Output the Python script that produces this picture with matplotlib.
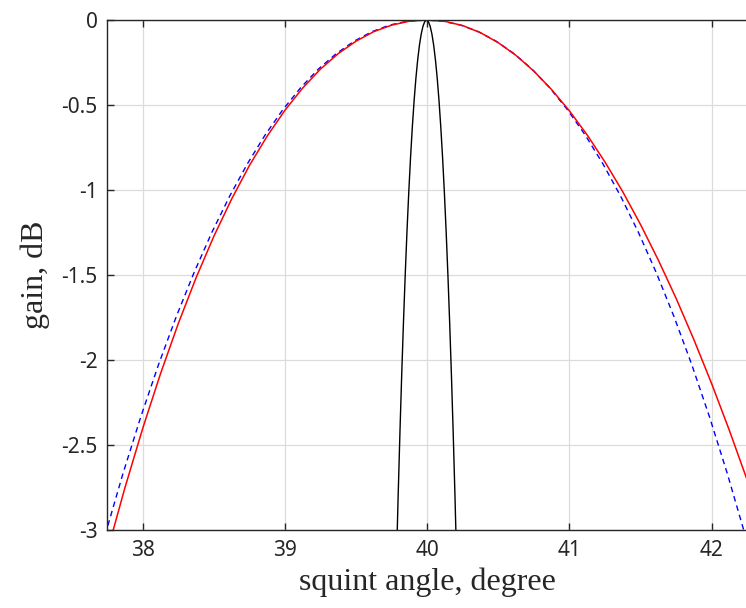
import matplotlib
matplotlib.use("Agg")
import matplotlib.pyplot as plt

# red curve (solid), every 0.125 deg
red_x = [37.75, 37.875, 38.0, 38.125, 38.25, 38.375, 38.5, 38.625, 38.75, 38.875,
         39.0, 39.125, 39.25, 39.375, 39.5, 39.625, 39.75, 39.875, 40.0,
         40.125, 40.25, 40.375, 40.5, 40.625, 40.75, 40.875, 41.0, 41.125,
         41.25, 41.375, 41.5, 41.625, 41.75, 41.875, 42.0, 42.125, 42.25, 42.375]
red_y = [-3.126, -2.749, -2.4, -2.079, -1.784, -1.515, -1.271, -1.052, -0.855, -0.682,
         -0.53, -0.399, -0.288, -0.197, -0.124, -0.068, -0.030, -0.007, 0.0,
         -0.008, -0.033, -0.075, -0.134, -0.209, -0.301, -0.410, -0.535, -0.677,
         -0.836, -1.011, -1.204, -1.413, -1.638, -1.881, -2.14, -2.416, -2.708, -3.018]

# blue curve (dashed)
blue_x = [37.735, 37.86, 37.985, 38.11, 38.235, 38.36, 38.485, 38.61, 38.735, 38.86,
          38.985, 39.11, 39.235, 39.36, 39.485, 39.61, 39.735, 39.86, 39.985,
          40.11, 40.235, 40.36, 40.485, 40.61, 40.735, 40.86, 40.985, 41.11,
          41.235, 41.36, 41.485, 41.61, 41.735, 41.86, 41.985, 42.11, 42.235, 42.36]
blue_y = [-3.029, -2.669, -2.336, -2.028, -1.745, -1.486, -1.250, -1.037, -0.846, -0.676,
          -0.527, -0.398, -0.288, -0.198, -0.125, -0.069, -0.030, -0.007, 0.0,
          -0.007, -0.030, -0.069, -0.125, -0.198, -0.288, -0.398, -0.527, -0.676,
          -0.846, -1.037, -1.250, -1.486, -1.745, -2.028, -2.336, -2.669, -3.029, -3.415]

# black narrow beam
black_x = [39.7825, 39.795, 39.8075, 39.82, 39.8325, 39.845, 39.8575, 39.87, 39.8825,
           39.895, 39.9075, 39.92, 39.9325, 39.945, 39.9575, 39.97, 39.9825, 39.995,
           40.0075, 40.02, 40.0325, 40.045, 40.0575, 40.07, 40.0825, 40.095, 40.1075,
           40.12, 40.1325, 40.145, 40.1575, 40.17, 40.1825, 40.195, 40.2075]
black_y = [-3.211, -2.807, -2.435, -2.093, -1.781, -1.497, -1.240, -1.011, -0.807,
           -0.629, -0.474, -0.343, -0.235, -0.148, -0.082, -0.036, -0.009, 0.0,
           -0.009, -0.036, -0.082, -0.148, -0.235, -0.343, -0.474, -0.629, -0.807,
           -1.011, -1.240, -1.497, -1.781, -2.093, -2.435, -2.807, -3.211]

x_ticks = [38, 39, 40, 41, 42]
y_ticks = [0, -0.5, -1, -1.5, -2, -2.5, -3]
y_tick_labels = ["0", "-0.5", "-1", "-1.5", "-2", "-2.5", "-3"]

fig = plt.figure(figsize=(7.46, 6.08), dpi=100)
ax = fig.add_axes([0.1438, 0.1283, 0.8579, 0.8388])

ax.plot(blue_x, blue_y, color="blue", lw=1.0, ls=(0, (4, 3)))
ax.plot(red_x, red_y, color="red", lw=1.1)
ax.plot(black_x, black_y, color="black", lw=1.0)

ax.set_xlim(37.75, 42.25)
ax.set_ylim(-3, 0)
ax.set_xticks(x_ticks)
ax.set_xticklabels([str(t) for t in x_ticks])
ax.set_yticks(y_ticks)
ax.set_yticklabels(y_tick_labels)

ax.grid(True, color="#dcdcdc", lw=0.9)
ax.set_axisbelow(True)
for side in ["left", "bottom", "top"]:
    ax.spines[side].set_color("#262626")
    ax.spines[side].set_linewidth(1.0)
ax.spines["right"].set_visible(False)

ax.tick_params(direction="in", length=5, width=1.0, color="#262626",
               top=True, right=False, labelsize=15, labelcolor="#262626", pad=7)
for lab in ax.get_xticklabels() + ax.get_yticklabels():
    lab.set_fontfamily("Noto Sans")

ax.set_xlabel("squint angle, degree", fontsize=23, family="Liberation Serif",
              color="#262626", labelpad=5)
ax.set_ylabel("gain, dB", fontsize=23, family="Liberation Serif",
              color="#262626", labelpad=8)

fig.savefig("out.png", dpi=100)
